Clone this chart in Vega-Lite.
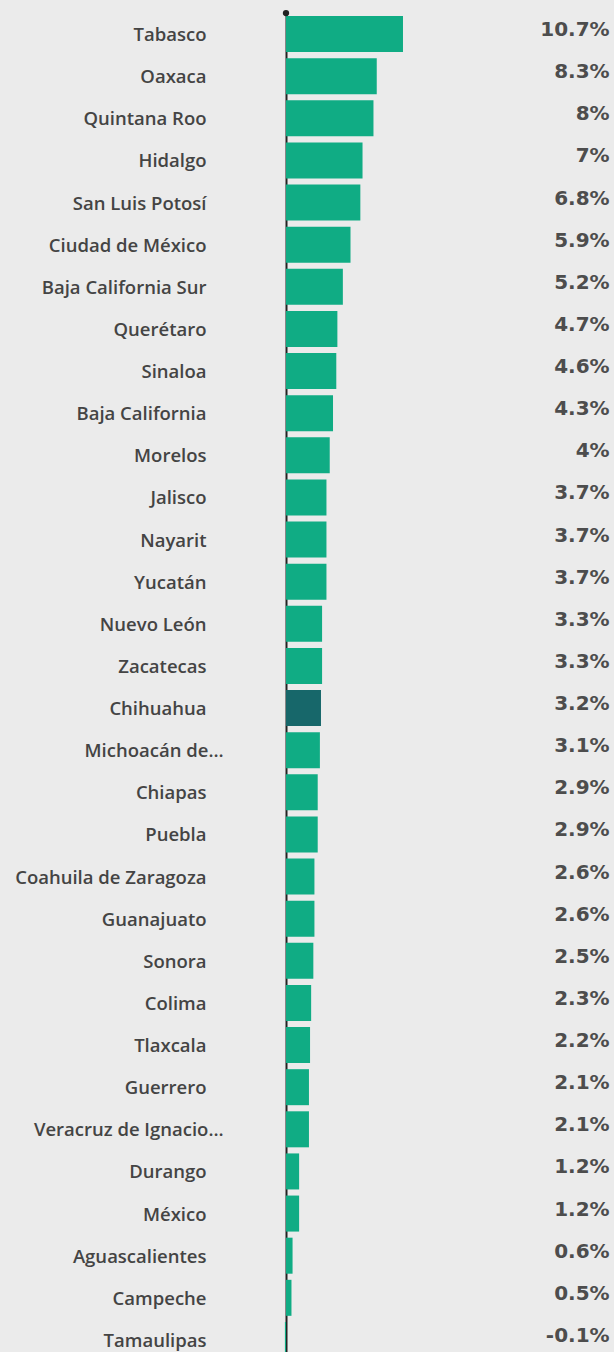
{
  "$schema": "https://vega.github.io/schema/vega-lite/v6.json",
  "autosize": "none",
  "padding": {"left": 286, "top": 13, "right": 0, "bottom": 0},
  "width": 328,
  "height": 1348,
  "background": "#EBEBEB",
  "config": {"view": {"stroke": null}},
  "data": {
    "values": [
      {"state": "Tabasco", "value": 10.7, "label": "10.7%"},
      {"state": "Oaxaca", "value": 8.3, "label": "8.3%"},
      {"state": "Quintana Roo", "value": 8.0, "label": "8%"},
      {"state": "Hidalgo", "value": 7.0, "label": "7%"},
      {"state": "San Luis Potosí", "value": 6.8, "label": "6.8%"},
      {"state": "Ciudad de México", "value": 5.9, "label": "5.9%"},
      {"state": "Baja California Sur", "value": 5.2, "label": "5.2%"},
      {"state": "Querétaro", "value": 4.7, "label": "4.7%"},
      {"state": "Sinaloa", "value": 4.6, "label": "4.6%"},
      {"state": "Baja California", "value": 4.3, "label": "4.3%"},
      {"state": "Morelos", "value": 4.0, "label": "4%"},
      {"state": "Jalisco", "value": 3.7, "label": "3.7%"},
      {"state": "Nayarit", "value": 3.7, "label": "3.7%"},
      {"state": "Yucatán", "value": 3.7, "label": "3.7%"},
      {"state": "Nuevo León", "value": 3.3, "label": "3.3%"},
      {"state": "Zacatecas", "value": 3.3, "label": "3.3%"},
      {"state": "Chihuahua", "value": 3.2, "label": "3.2%"},
      {"state": "Michoacán de…", "value": 3.1, "label": "3.1%"},
      {"state": "Chiapas", "value": 2.9, "label": "2.9%"},
      {"state": "Puebla", "value": 2.9, "label": "2.9%"},
      {"state": "Coahuila de Zaragoza", "value": 2.6, "label": "2.6%"},
      {"state": "Guanajuato", "value": 2.6, "label": "2.6%"},
      {"state": "Sonora", "value": 2.5, "label": "2.5%"},
      {"state": "Colima", "value": 2.3, "label": "2.3%"},
      {"state": "Tlaxcala", "value": 2.2, "label": "2.2%"},
      {"state": "Guerrero", "value": 2.1, "label": "2.1%"},
      {"state": "Veracruz de Ignacio…", "value": 2.1, "label": "2.1%"},
      {"state": "Durango", "value": 1.2, "label": "1.2%"},
      {"state": "México", "value": 1.2, "label": "1.2%"},
      {"state": "Aguascalientes", "value": 0.6, "label": "0.6%"},
      {"state": "Campeche", "value": 0.5, "label": "0.5%"},
      {"state": "Tamaulipas", "value": -0.1, "label": "-0.1%"}
    ]
  },
  "encoding": {
    "y": {
      "field": "state",
      "type": "nominal",
      "sort": null,
      "scale": {"paddingInner": 0.145, "paddingOuter": 0.0725},
      "axis": {
        "title": null,
        "ticks": false,
        "domain": true,
        "domainColor": "#222222",
        "domainWidth": 2,
        "labelFont": "Open Sans",
        "labelFontSize": 18.5,
        "labelFontWeight": 600,
        "labelColor": "#444444",
        "labelLimit": 300,
        "labelOffset": 1,
        "labelPadding": {"condition": {"test": "indexof(datum.value, '…') >= 0", "value": 63}, "value": 80}
      }
    }
  },
  "layer": [
    {
      "mark": {"type": "bar", "clip": false},
      "encoding": {
        "x": {"field": "value", "type": "quantitative", "scale": {"domain": [0, 30], "nice": false, "zero": true}, "axis": null},
        "color": {"condition": {"test": "datum.state === 'Chihuahua'", "value": "#17676A"}, "value": "#10AC84"}
      }
    },
    {
      "mark": {"type": "text", "align": "right", "baseline": "middle", "dy": -4, "font": "DejaVu Sans", "fontSize": 20, "fontWeight": "bold", "color": "#4D4D4D"},
      "encoding": {
        "x": {"datum": 29.6, "type": "quantitative"},
        "text": {"field": "label"}
      }
    },
    {
      "data": {"values": [{"state": "Tabasco"}]},
      "mark": {"type": "point", "filled": true, "size": 40, "color": "#222222", "yOffset": -21, "opacity": 1},
      "encoding": {
        "x": {"datum": 0, "type": "quantitative"}
      }
    }
  ]
}
